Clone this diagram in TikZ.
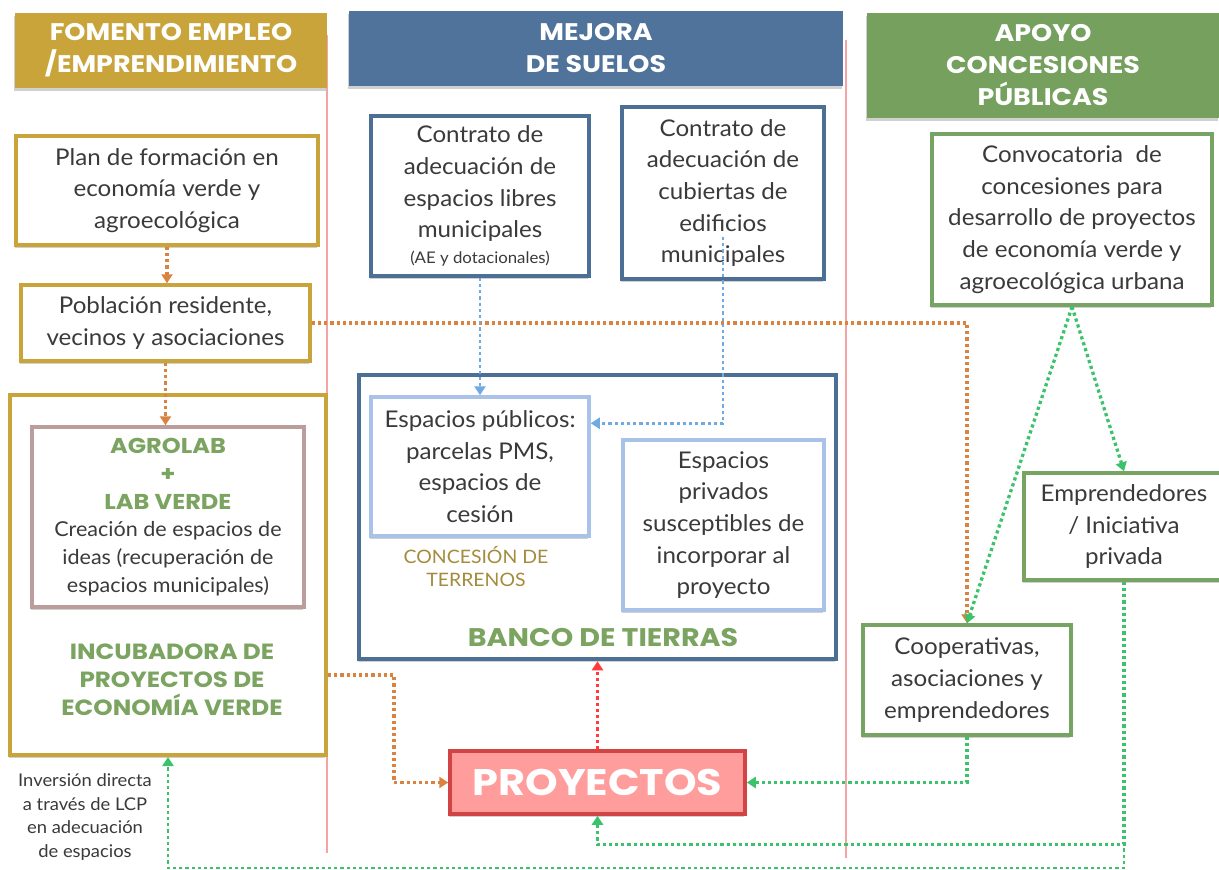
\documentclass[tikz,border=0pt]{standalone}
\usepackage{fontspec}
\setmainfont{Lato}[FakeStretch=1.05]
\newfontfamily\hfont{Poppins}[FakeStretch=1.12]
\usetikzlibrary{arrows.meta,shadows,calc}
\definecolor{gold}{HTML}{C9A43B}
\definecolor{bluehd}{HTML}{50739B}
\definecolor{bluebd}{HTML}{4C6F96}
\definecolor{greenhd}{HTML}{75A05D}
\definecolor{greenbd}{HTML}{78A463}
\definecolor{greentx}{HTML}{7AA45F}
\definecolor{lblue}{HTML}{A9C3E8}
\definecolor{mauve}{HTML}{BB9D9C}
\definecolor{pinkln}{HTML}{F6A3A3}
\definecolor{orarr}{HTML}{DA8240}
\definecolor{blarr}{HTML}{6FAAE2}
\definecolor{grarr}{HTML}{3DC26C}
\definecolor{redarr}{HTML}{FF3B3B}
\definecolor{proyfill}{HTML}{FF9C9C}
\definecolor{proybd}{HTML}{D24444}
\definecolor{txt}{HTML}{3A3A3A}
\definecolor{conctx}{HTML}{A48B3D}
\newcommand\bfnt{\fontsize{23}{31.6}\selectfont}
\newcommand\hdfnt{\hfont\bfseries\fontsize{24}{32}\selectfont}
\newcommand\gtx[1]{{\hfont\bfseries\fontsize{21.5}{27.8}\selectfont\color{greentx}#1}}
\begin{document}
\begin{tikzpicture}[x=1pt,y=-1pt,
  shd/.style={drop shadow={shadow xshift=-1.5pt,shadow yshift=-2.5pt,opacity=0.3,fill=black!60}},
  box/.style={draw,fill=white,line width=3.5pt,inner sep=0pt,align=center,text=txt,font=\bfnt,shd},
  hdr/.style={inner sep=0pt,align=center,text=white,font=\hdfnt,shd},
  lbl/.style={inner sep=0pt,align=center},
  dots/.style={line width=3.3pt,dash pattern=on 3.2pt off 3pt,-{Triangle[width=11pt,length=9pt]}},
  odot/.style={dots,draw=orarr},
  gdot/.style={dots,draw=grarr},
  bdot/.style={dots,draw=blarr,line width=2.8pt},
  rdot/.style={dots,draw=redarr},
  pinkline/.style={draw=pinkln,line width=2.2pt}]
\useasboundingbox (0,0) rectangle (1219,870);
\fill[white] (0,0) rectangle (1219,870);
% column separators
\draw[pinkline] (327,35) -- (327,853);
\draw[pinkline] (846,40) -- (846,858);
% headers
\node[hdr,fill=gold,minimum width=312,minimum height=75] (hfom) at (171,50.5) {FOMENTO EMPLEO\\/EMPRENDIMIENTO};
\node[hdr,fill=bluehd,minimum width=494,minimum height=75] (hmej) at (596,48.5) {MEJORA\\DE SUELOS};
\node[hdr,fill=greenhd,minimum width=352,minimum height=105] (hapo) at (1043,65.5) {APOYO\\CONCESIONES\\PÚBLICAS};
% left column
\node[box,draw=gold,minimum width=302,minimum height=109] (plan) at (167,190.5) {Plan de formación en\\economía verde y\\agroecológica};
\node[box,draw=gold,minimum width=289,minimum height=76] (pob) at (165.5,323) {Población residente,\\vecinos y asociaciones};
\node[box,draw=gold,line width=4pt,minimum width=316,minimum height=360] (incub) at (168,575) {};
\node[box,draw=mauve,minimum width=272,minimum height=180,font=\fontsize{20.5}{27.8}\selectfont,drop shadow={opacity=0}] (agro) at (168,517) {\gtx{AGROLAB}\\\gtx{+}\\\gtx{LAB VERDE}\\Creación de espacios de\\ideas (recuperación de\\espacios municipales)};
\node[lbl,text=greentx,font=\hfont\bfseries\fontsize{22}{28}\selectfont] (incubtxt) at (172,680) {INCUBADORA DE\\PROYECTOS DE\\ECONOMÍA VERDE};
\node[lbl,text=txt,font=\fontsize{17.5}{23.7}\selectfont] (inv) at (85,817) {Inversión directa\\a través de LCP\\en adecuación\\de espacios};
% middle column
\node[box,draw=bluebd,minimum width=218,minimum height=160] (c1) at (480,196) {Contrato de\\adecuación de\\espacios libres\\municipales\\[-6pt]{\fontsize{16}{18}\selectfont(AE y dotacionales)}};
\node[box,draw=bluebd,minimum width=202,minimum height=172] (c2) at (723,193) {Contrato de\\adecuación de\\cubiertas de\\edificios\\municipales};
\node[box,draw=bluebd,line width=4.5pt,minimum width=477,minimum height=284] (banco) at (597.5,517) {};
\node[box,draw=lblue,minimum width=218,minimum height=139,drop shadow={opacity=0}] (epub) at (480,466.5) {Espacios públicos:\\parcelas PMS,\\espacios de\\cesión};
\node[lbl,text=conctx,font=\fontsize{18.5}{23}\selectfont] (conc) at (476,567) {CONCESIÓN DE\\TERRENOS};
\node[box,draw=lblue,minimum width=201,minimum height=170,drop shadow={opacity=0}] (epriv) at (723.5,525) {Espacios\\privados\\susceptibles de\\incorporar al\\proyecto};
\node[lbl,text=greentx,font=\hfont\bfseries\fontsize{25.5}{28}\selectfont] (bancotxt) at (603,638) {BANCO DE TIERRAS};
\node[box,draw=proybd,fill=proyfill,text=white,font=\hfont\bfseries\fontsize{37}{40}\selectfont,minimum width=295,minimum height=63] (proy) at (597.5,782.5) {PROYECTOS};
% right column
\node[box,draw=greenbd,minimum width=280,minimum height=171] (conv) at (1072,219.5) {Convocatoria\ \ de\\concesiones para\\desarrollo de proyectos\\de economía verde y\\agroecológica urbana};
\node[box,draw=greenbd,minimum width=200,minimum height=107] (emp) at (1124,526.5) {Emprendedores\\/ Iniciativa\\privada};
\node[box,draw=greenbd,minimum width=208,minimum height=110] (coop) at (967,680) {Cooperativas,\\asociaciones y\\emprendedores};
% connectors
\coordinate (c2s) at ($(c2.center)+(0,44)$);
\coordinate (ce) at ($(epub.north east)+(0,28)$);
\coordinate (ie) at ($(incub.south east)+(0,-82)$);
\draw[odot] (plan.south) -- (plan.south |- pob.north);
\draw[odot] (pob.south) -- (pob.south |- agro.north);
\draw[odot] (pob.east) -| (coop.north);
\draw[odot] (ie) -- ++(66,0) |- (proy.west);
\draw[bdot] (c1.south) -- (epub.north);
\draw[bdot] (c2s) |- (ce);
\draw[rdot] (proy.north) -- (banco.south);
\draw[gdot] (conv.south) -- (coop.north);
\draw[gdot] (conv.south) -- (emp.north);
\draw[gdot] (coop.south) |- (proy.east);
\draw[gdot] (emp.south) -- ++(0,263) -| (proy.south);
\draw[gdot,line width=2.2pt] (emp.south) -- ++(0,286) -| (incub.south);
\end{tikzpicture}
\end{document}
